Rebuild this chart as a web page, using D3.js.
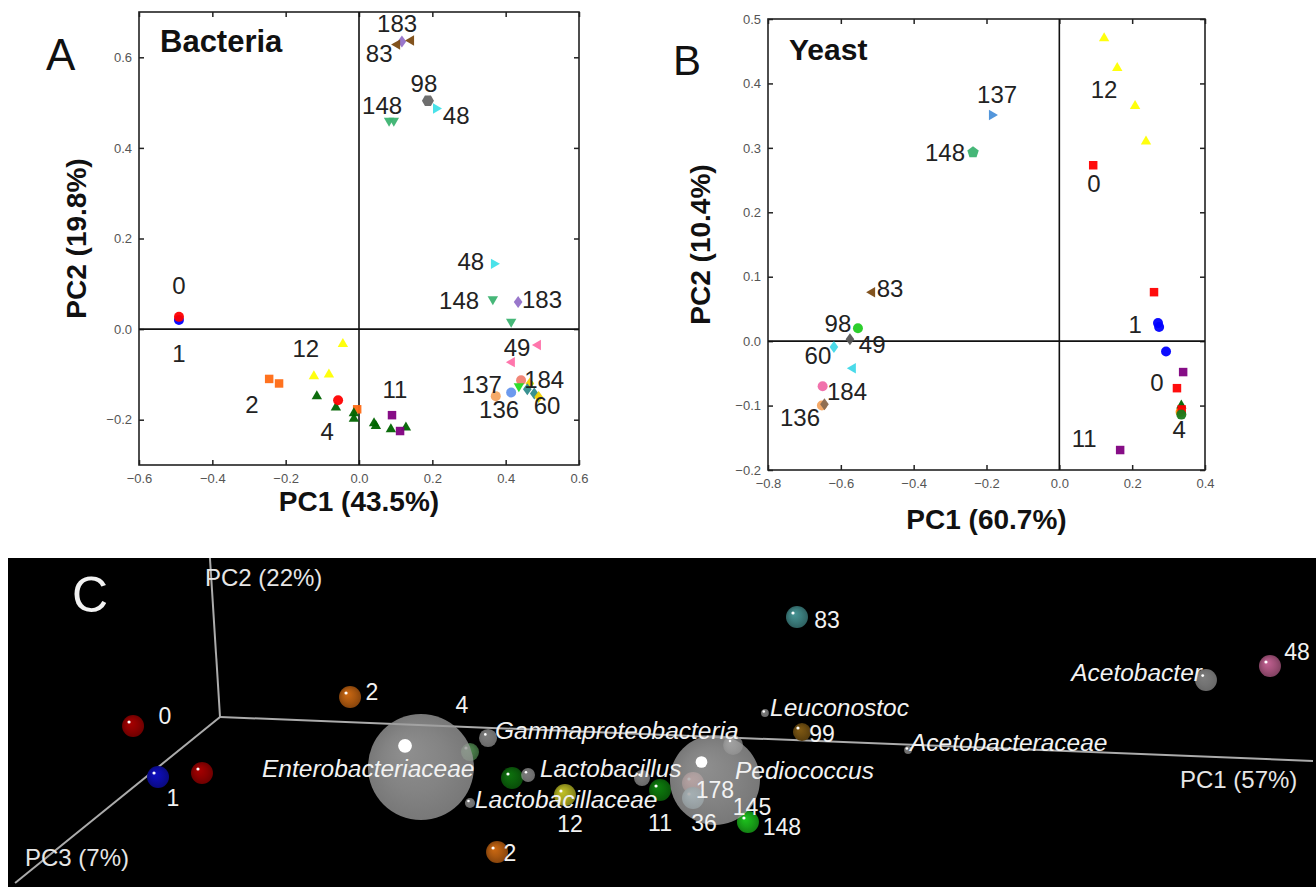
<!DOCTYPE html>
<html>
<head>
<meta charset="utf-8">
<script src="https://cdn.jsdelivr.net/npm/d3@7"></script>
<style>
body { margin: 0; background: #fff; }
text { font-family: "Liberation Sans", Arial, sans-serif; }
.tick text { fill: #555; font-size: 13px; font-family: "Liberation Sans", Arial, sans-serif; }
.tick line { stroke: #222; stroke-width: 1.5; }
</style>
</head>
<body>
<script>
var width = 1316,
    height = 887;

// ---- Panel A: bacteria PCA (group, PC1, PC2)
var bacteriaPoints = [
  ["1", -0.491, 0.020], ["0", -0.491, 0.027],
  ["2", -0.245, -0.110], ["2", -0.218, -0.120], ["2", -0.005, -0.177],
  ["12", -0.044, -0.033], ["12", -0.123, -0.104], ["12", -0.082, -0.100],
  ["4", -0.115, -0.148], ["4", -0.063, -0.173], ["4", -0.014, -0.186], ["4", -0.014, -0.198],
  ["0", -0.057, -0.157],
  ["4", 0.041, -0.208], ["4", 0.046, -0.214], ["4", 0.087, -0.221], ["4", 0.128, -0.217],
  ["11", 0.090, -0.190], ["11", 0.112, -0.225],
  ["183", 0.117, 0.635], ["83", 0.142, 0.637], ["83", 0.104, 0.628],
  ["98", 0.188, 0.504], ["48", 0.210, 0.487],
  ["148", 0.082, 0.460], ["148", 0.095, 0.460],
  ["48", 0.368, 0.144], ["148", 0.365, 0.066], ["183", 0.434, 0.060], ["148", 0.415, 0.016],
  ["49", 0.488, -0.035], ["49", 0.417, -0.073],
  ["184", 0.442, -0.113], ["178", 0.466, -0.120], ["145", 0.436, -0.126],
  ["60", 0.459, -0.133], ["60", 0.478, -0.142], ["178", 0.490, -0.150],
  ["137", 0.415, -0.140], ["136", 0.373, -0.148]
];
var bacteriaLabels = [
  ["0", -0.491, 0.097], ["1", -0.491, -0.055], ["12", -0.145, -0.044], ["2", -0.292, -0.166],
  ["4", -0.087, -0.226], ["11", 0.098, -0.133], ["183", 0.104, 0.675], ["83", 0.055, 0.608],
  ["98", 0.177, 0.542], ["48", 0.265, 0.471], ["148", 0.063, 0.493], ["48", 0.305, 0.150],
  ["148", 0.273, 0.062], ["183", 0.499, 0.066], ["49", 0.431, -0.040], ["184", 0.505, -0.111],
  ["137", 0.335, -0.122], ["136", 0.382, -0.177], ["60", 0.513, -0.168]
];
var bacteriaXTicks = [-0.6, -0.4, -0.2, 0.0, 0.2, 0.4, 0.6];
var bacteriaYTicks = [-0.2, 0.0, 0.2, 0.4, 0.6];

// ---- Panel B: yeast PCA (group, PC1, PC2)
var yeastPoints = [
  ["12", 0.123, 0.470], ["12", 0.159, 0.424], ["12", 0.208, 0.365], ["12", 0.238, 0.310],
  ["0", 0.093, 0.273], ["137", -0.185, 0.351], ["148", -0.237, 0.293],
  ["83", -0.514, 0.076], ["98", -0.553, 0.020], ["49", -0.575, 0.003],
  ["60", -0.619, -0.009], ["48", -0.567, -0.042], ["184", -0.650, -0.070],
  ["136", -0.652, -0.100], ["178", -0.645, -0.098],
  ["0", 0.260, 0.076], ["1", 0.271, 0.028], ["1", 0.274, 0.022], ["1", 0.293, -0.016],
  ["11", 0.340, -0.048], ["0", 0.323, -0.073],
  ["2", 0.333, -0.110], ["4", 0.335, -0.100], ["0", 0.336, -0.106], ["4c", 0.335, -0.114],
  ["11", 0.167, -0.169]
];
var yeastLabels = [
  ["12", 0.123, 0.391], ["0", 0.095, 0.245], ["137", -0.171, 0.382], ["148", -0.314, 0.292],
  ["83", -0.465, 0.081], ["98", -0.608, 0.028], ["49", -0.514, -0.006], ["60", -0.663, -0.023],
  ["184", -0.583, -0.078], ["136", -0.712, -0.118], ["1", 0.208, 0.025], ["0", 0.268, -0.065],
  ["4", 0.329, -0.138], ["11", 0.068, -0.151]
];
var yeastXTicks = [-0.8, -0.6, -0.4, -0.2, 0.0, 0.2, 0.4];
var yeastYTicks = [-0.2, -0.1, 0.0, 0.1, 0.2, 0.3, 0.4, 0.5];

// ---- Panel C: 3D biplot, projected position (u, v in % of panel)
var axisEnds = [
  ["PC1", 99.77, 61.7], ["PC2", 15.44, 0.0], ["PC3", 0.54, 98.8]
];
var axisOrigin = [16.21, 48.33];
var axisTitles = [["PC1 (57%)", 89.6, 67.5], ["PC2 (22%)", 15.06, 6.1], ["PC3 (7%)", 1.3, 91.2]];
var samples3d = [
  ["0", 9.56, 51.06], ["1", 11.47, 66.57], ["0", 14.83, 65.35], ["2", 26.15, 42.25],
  ["4", 35.32, 58.97], ["11b", 38.53, 66.87], ["12", 42.58, 72.04], ["2", 37.39, 89.36],
  ["11", 49.85, 70.52], ["178", 52.37, 68.39], ["36", 52.37, 72.95], ["148", 56.57, 80.24],
  ["99", 60.70, 52.89], ["83", 60.32, 17.93], ["48", 96.48, 32.83]
];
var sampleLabels3d = [
  ["0", 12.0, 48.0], ["1", 12.61, 72.95], ["2", 27.83, 40.73], ["4", 34.71, 44.68],
  ["12", 42.97, 80.9], ["2", 38.38, 89.67], ["11", 49.85, 80.55], ["36", 53.21, 80.55],
  ["178", 54.05, 70.52], ["145", 56.88, 75.68], ["148", 59.17, 81.76], ["99", 62.23, 53.5],
  ["83", 62.61, 18.84], ["48", 98.55, 28.57]
];
// taxon, u, v, relative abundance
var taxa3d = [
  ["Enterobacteriaceae", 31.57, 63.53, 1100], ["Gammaproteobacteria", 36.70, 54.71, 32],
  ["Lactobacillus", 39.76, 65.96, 19], ["Lactobacillaceae", 35.32, 74.47, 10],
  ["other", 48.47, 66.87, 25], ["Pediococcus", 54.05, 67.48, 793],
  ["other", 55.43, 56.84, 39], ["Leuconostoc", 57.87, 47.11, 6],
  ["Acetobacteraceae", 68.81, 58.36, 6], ["Acetobacter", 91.59, 37.08, 47]
];
var taxonLabels3d = [
  ["Enterobacteriaceae", 19.42, 63.83, "start"], ["Gammaproteobacteria", 37.23, 52.28, "start"],
  ["Lactobacillus", 40.67, 63.83, "start"], ["Lactobacillaceae", 35.70, 73.3, "start"],
  ["Pediococcus", 55.58, 64.44, "start"], ["Leuconostoc", 58.26, 45.4, "start"],
  ["Acetobacteraceae", 68.96, 55.93, "start"], ["Acetobacter", 91.28, 34.65, "end"]
];

// ---- marker styles
var styleA = {
  "0": ["o", "#ff0000"], "1": ["o", "#0000ff"], "2": ["s", "#ff6a13"], "4": ["^", "#006400"],
  "11": ["s", "#800080"], "12": ["^", "#ffff00"], "183": ["d", "#9370c8"], "83": ["<", "#7b4a12"],
  "98": ["h", "#666666"], "48": [">", "#40e0e8"], "148": ["v", "#3cb371"], "49": ["<", "#ff6fa8"],
  "184": ["o", "#f08070"], "178": ["d", "#f0d000"], "145": ["v", "#22dd22"], "60": ["d", "#2e8b8b"],
  "137": ["o", "#6495ed"], "136": ["o", "#f4a460"]
};
var styleB = {
  "0": ["s", "#ff0000"], "1": ["o", "#0000ff"], "2": ["o", "#ff8c00"], "4": ["^", "#006400"],
  "4c": ["o", "#1a7a1a"], "11": ["s", "#800080"], "12": ["^", "#ffff00"], "137": [">", "#4a90d9"],
  "148": ["p", "#3cb371"], "83": ["<", "#7b4a12"], "98": ["o", "#22cc22"], "49": ["d", "#555555"],
  "60": ["d", "#40d8e8"], "48": ["<", "#40d8e8"], "184": ["o", "#f06aa8"], "136": ["o", "#f4a460"],
  "178": ["d", "#8b6a50"]
};
var sphereColor = {
  "0": "#8a0000", "1": "#0c0ca0", "2": "#a8560f", "4": "#5c9c5c", "11b": "#0b5e0b",
  "12": "#a0a020", "11": "#0b6a0b", "178": "#c07070", "36": "#8ab8c8", "148": "#18a018",
  "99": "#6a4a10", "83": "#3a7a7a", "48": "#a05078"
};

var svg = d3.select("body").append("svg")
    .attr("width", width)
    .attr("height", height)
    .style("display", "block");

svg.append("rect").attr("width", width).attr("height", height).attr("fill", "#fff");

function markerPath(shape, r) {
  if (shape === "o") return d3.symbol(d3.symbolCircle, Math.PI * r * r)();
  var n = {"^": 3, "v": 3, "<": 3, ">": 3, "s": 4, "d": 4, "p": 5, "h": 6}[shape],
      rot = {"^": -90, "v": 90, "<": 180, ">": 0, "s": 45, "d": -90, "p": -90, "h": 0}[shape] * Math.PI / 180,
      sx = shape === "d" ? 0.72 : 1;
  var pts = d3.range(n).map(function(i) {
    var a = rot + 2 * Math.PI * i / n;
    return [(r * Math.cos(a) * sx).toFixed(2), (r * Math.sin(a)).toFixed(2)];
  });
  return "M" + pts.join("L") + "Z";
}

function scatterPanel(o) {
  var g = svg.append("g");
  var x = d3.scaleLinear().domain(o.xDomain).range([o.left, o.right]),
      y = d3.scaleLinear().domain(o.yDomain).range([o.bottom, o.top]),
      fmt = d3.format(".1f");

  g.append("g").attr("transform", "translate(0," + o.bottom + ")")
      .call(d3.axisBottom(x).tickValues(o.xTicks).tickSize(-5).tickPadding(9).tickFormat(fmt));
  g.append("g").attr("transform", "translate(0," + o.top + ")")
      .call(d3.axisTop(x).tickValues(o.xTicks).tickSize(-5).tickFormat(""));
  g.append("g").attr("transform", "translate(" + o.left + ",0)")
      .call(d3.axisLeft(y).tickValues(o.yTicks).tickSize(-5).tickPadding(7).tickFormat(fmt));
  g.append("g").attr("transform", "translate(" + o.right + ",0)")
      .call(d3.axisRight(y).tickValues(o.yTicks).tickSize(-5).tickFormat(""));
  g.selectAll(".domain").remove();

  g.append("rect")
      .attr("x", o.left).attr("y", o.top)
      .attr("width", o.right - o.left).attr("height", o.bottom - o.top)
      .attr("fill", "none").attr("stroke", "#222").attr("stroke-width", 1.6);
  g.append("line").attr("x1", x(0)).attr("x2", x(0)).attr("y1", o.top).attr("y2", o.bottom)
      .attr("stroke", "#111").attr("stroke-width", 1.6);
  g.append("line").attr("x1", o.left).attr("x2", o.right).attr("y1", y(0)).attr("y2", y(0))
      .attr("stroke", "#111").attr("stroke-width", 1.6);

  g.selectAll(".pt").data(o.points).enter().append("path")
      .attr("class", "pt")
      .attr("transform", function(d) { return "translate(" + x(d[1]) + "," + y(d[2]) + ")"; })
      .attr("d", function(d) {
        var s = o.style[d[0]][0];
        return markerPath(s, s === "o" ? 5 : 6);
      })
      .attr("fill", function(d) { return o.style[d[0]][1]; })
      .attr("opacity", 0.95);

  g.selectAll(".lab").data(o.labels).enter().append("text")
      .attr("x", function(d) { return x(d[1]); })
      .attr("y", function(d) { return y(d[2]); })
      .attr("dy", "0.35em")
      .attr("text-anchor", "middle")
      .attr("font-size", 24)
      .attr("fill", "#222")
      .text(function(d) { return d[0]; });

  g.append("text").attr("x", o.left + 21).attr("y", o.titleY)
      .attr("font-size", o.titleSize).attr("font-weight", "bold").attr("fill", "#111")
      .text(o.title);
  g.append("text").attr("x", (o.left + o.right) / 2).attr("y", o.xLabelY)
      .attr("text-anchor", "middle").attr("dy", "0.35em")
      .attr("font-size", 28).attr("font-weight", "bold").attr("fill", "#111")
      .text(o.xLabel);
  g.append("text")
      .attr("transform", "translate(" + o.yLabelX + "," + (o.top + o.bottom) / 2 + ") rotate(-90)")
      .attr("text-anchor", "middle").attr("dy", "0.35em")
      .attr("font-size", 28).attr("font-weight", "bold").attr("fill", "#111")
      .text(o.yLabel);
  g.append("text").attr("x", o.letterX).attr("y", o.letterY)
      .attr("font-family", "'Open Sans', sans-serif").attr("font-weight", 300)
      .attr("font-size", o.letterSize).attr("fill", "#111")
      .text(o.letter);
}

scatterPanel({
  left: 139, right: 579, top: 12, bottom: 465,
  xDomain: [-0.6, 0.6], yDomain: [-0.3, 0.7],
  xTicks: bacteriaXTicks, yTicks: bacteriaYTicks,
  points: bacteriaPoints, labels: bacteriaLabels, style: styleA,
  title: "Bacteria", titleY: 52, titleSize: 31,
  xLabel: "PC1 (43.5%)", xLabelY: 501,
  yLabel: "PC2 (19.8%)", yLabelX: 76,
  letter: "A", letterX: 46, letterY: 70, letterSize: 44
});

scatterPanel({
  left: 768, right: 1205, top: 19, bottom: 470,
  xDomain: [-0.8, 0.4], yDomain: [-0.2, 0.5],
  xTicks: yeastXTicks, yTicks: yeastYTicks,
  points: yeastPoints, labels: yeastLabels, style: styleB,
  title: "Yeast", titleY: 60, titleSize: 30,
  xLabel: "PC1 (60.7%)", xLabelY: 519,
  yLabel: "PC2 (10.4%)", yLabelX: 700,
  letter: "B", letterX: 673, letterY: 75, letterSize: 42
});

// ---- Panel C
var cTop = 558;
var xC = d3.scaleLinear().domain([0, 100]).range([8, width]),
    yC = d3.scaleLinear().domain([0, 100]).range([cTop, height]),
    rTaxon = d3.scaleSqrt().domain([0, 1100]).range([0, 53]);

var gC = svg.append("g");
gC.append("rect").attr("x", 8).attr("y", cTop).attr("width", width - 8).attr("height", height - cTop)
    .attr("fill", "#000");

var defs = svg.append("defs");
function sphereGradient(id, c, k) {
  var base = d3.color(c);
  var grad = defs.append("radialGradient").attr("id", id)
      .attr("cx", "0.5").attr("cy", "0.5").attr("r", "0.5")
      .attr("fx", "0.35").attr("fy", "0.33");
  grad.append("stop").attr("offset", "0%").attr("stop-color", base.brighter(k));
  grad.append("stop").attr("offset", "60%").attr("stop-color", base);
  grad.append("stop").attr("offset", "100%").attr("stop-color", base.darker(k));
}
Object.keys(sphereColor).forEach(function(k) { sphereGradient("sph" + k, sphereColor[k], 0.6); });
sphereGradient("sphTaxon", "#a4a4a4", 0.25);

gC.selectAll(".axis3d").data(axisEnds).enter().append("line")
    .attr("x1", xC(axisOrigin[0])).attr("y1", yC(axisOrigin[1]))
    .attr("x2", function(d) { return xC(d[1]); })
    .attr("y2", function(d) { return yC(d[2]); })
    .attr("stroke", "#ababab").attr("stroke-width", 2);

var sampleR = 11;
gC.selectAll(".sample").data(samples3d).enter().append("circle")
    .attr("cx", function(d) { return xC(d[1]); })
    .attr("cy", function(d) { return yC(d[2]); })
    .attr("r", function(d) { return d[0] === "4" || d[0] === "99" ? 9 : sampleR; })
    .attr("fill", function(d) { return "url(#sph" + d[0] + ")"; })
    .attr("opacity", function(d) { return d[0] === "4" ? 0.75 : 1; });
gC.selectAll(".sampleHi").data(samples3d).enter().append("circle")
    .attr("cx", function(d) { return xC(d[1]) - 4; })
    .attr("cy", function(d) { return yC(d[2]) - 4; })
    .attr("r", 1.6).attr("fill", "#fff");

gC.selectAll(".taxon").data(taxa3d).enter().append("circle")
    .attr("cx", function(d) { return xC(d[1]); })
    .attr("cy", function(d) { return yC(d[2]); })
    .attr("r", function(d) { return rTaxon(d[3]); })
    .attr("fill", "url(#sphTaxon)")
    .attr("opacity", function(d) { return d[3] > 500 ? 0.8 : 0.7; });
gC.selectAll(".taxonHi").data(taxa3d).enter().append("circle")
    .attr("cx", function(d) { return xC(d[1]) - 0.3 * rTaxon(d[3]); })
    .attr("cy", function(d) { return yC(d[2]) - 0.4 * rTaxon(d[3]); })
    .attr("r", function(d) { return Math.max(1.3, 0.13 * rTaxon(d[3])); })
    .attr("fill", "#fff");

gC.selectAll(".slab").data(sampleLabels3d).enter().append("text")
    .attr("x", function(d) { return xC(d[1]); })
    .attr("y", function(d) { return yC(d[2]); })
    .attr("dy", "0.35em").attr("text-anchor", "middle")
    .attr("font-size", 23).attr("fill", "#f2f2f2")
    .text(function(d) { return d[0]; });

gC.selectAll(".tlab").data(taxonLabels3d).enter().append("text")
    .attr("x", function(d) { return xC(d[1]); })
    .attr("y", function(d) { return yC(d[2]); })
    .attr("dy", "0.35em").attr("text-anchor", function(d) { return d[3]; })
    .attr("font-size", 24.5).attr("font-style", "italic").attr("fill", "#f2f2f2")
    .text(function(d) { return d[0]; });

gC.selectAll(".atitle").data(axisTitles).enter().append("text")
    .attr("x", function(d) { return xC(d[1]); })
    .attr("y", function(d) { return yC(d[2]); })
    .attr("dy", "0.35em")
    .attr("font-size", 24).attr("fill", "#e6e6e6")
    .text(function(d) { return d[0]; });

gC.append("text").attr("x", 72).attr("y", 612)
    .attr("font-family", "'Open Sans', sans-serif").attr("font-weight", 300)
    .attr("font-size", 50).attr("fill", "#f2f2f2")
    .text("C");
</script>
</body>
</html>
